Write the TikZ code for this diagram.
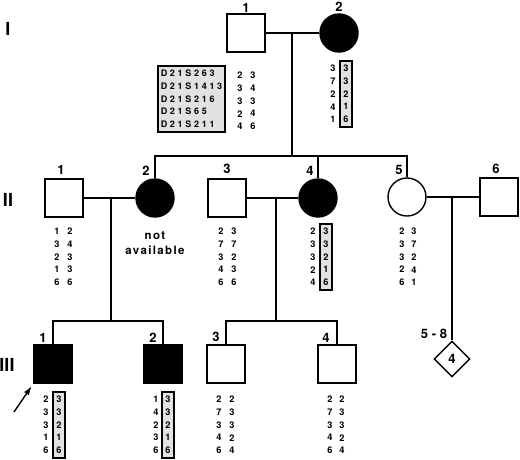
\documentclass[tikz,border=0pt]{standalone}
\usepackage{fontspec}
\setmainfont{TeX Gyre Heros}
\newfontfamily\markerfont[LetterSpace=30]{TeX Gyre Heros}
\newfontfamily\notefont[LetterSpace=12]{TeX Gyre Heros}
\usetikzlibrary{arrows.meta,positioning,shapes.geometric}
\usepackage{xcolor}
\definecolor{ink}{HTML}{000000}
\definecolor{stipple}{HTML}{E2E2E2}
\newcommand{\hapfont}{\bfseries\fontsize{9.2}{12.7}\selectfont}
\tikzset{
  >=Latex,
  every node/.style={font=\bfseries\fontsize{13}{13}\selectfont,text=ink},
  line/.style={line width=1.3pt,draw=ink},
  person/.style={draw=ink,line width=1.4pt,minimum size=38pt,inner sep=0pt,fill=white},
  male/.style={person,rectangle},
  female/.style={person,circle},
  affected/.style={fill=ink},
  unsexed/.style={person,diamond,minimum size=36pt},
  idlabel/.style={inner sep=1pt},
  genlabel/.style={font=\bfseries\fontsize{18}{18}\selectfont,inner sep=0pt},
  hapcol/.style={font=\hapfont,align=center,inner xsep=3.4pt,inner ysep=4.2pt},
  hapbox/.style={hapcol,draw=ink,line width=1.1pt,fill=stipple},
  markerbox/.style={draw=ink,line width=1.5pt,fill=stipple,align=left,inner xsep=3pt,inner ysep=4pt,font=\markerfont\bfseries\fontsize{9}{12.7}\selectfont},
  note/.style={font=\notefont\bfseries\fontsize{11.5}{15}\selectfont,align=center,inner sep=0pt},
  probarrow/.style={-{Latex[length=9pt,width=6pt]},line width=1.4pt,draw=ink,shorten >=3pt},
}

\begin{document}
\begin{tikzpicture}[x=1pt,y=-1pt]
\useasboundingbox (0,0) rectangle (520,459);

% generation I
\node[genlabel] (genI) at (8,29) {I};
\node[male] (I1) at (246,33) {};
\node[female,affected] (I2) at (339,33) {};
\node[idlabel,above=0pt of I1] (I1n) {1};
\node[idlabel,above=1pt of I2] (I2n) {2};
\coordinate (c1) at (292,33);
\coordinate (s1) at (292,156);
\draw[line] (I1) -- (I2);
\draw[line] (c1) -- (s1);

\node[markerbox] (markers) at (191.5,99) {D21S263\\D21S1413\\D21S216\\D21S65\\D21S211};
\node[hapcol] (mka) at (240,101) {2\\3\\3\\2\\4};
\node[hapcol] (mkb) at (253,101) {3\\4\\3\\4\\6};
\node[hapcol] (I2a) at (333,94) {3\\7\\2\\4\\1};
\node[hapbox] (I2b) at (346,94) {3\\3\\2\\1\\6};

% generation II
\node[genlabel] (genII) at (8,200) {II};
\node[male] (II1) at (64,198) {};
\node[female,affected] (II2) at (155,198) {};
\node[male] (II3) at (227,198) {};
\node[female,affected] (II4) at (318,198) {};
\node[female] (II5) at (407,197) {};
\node[male] (II6) at (499,197) {};
\node[idlabel,above=3pt of II1,xshift=-3pt] (II1n) {1};
\node[idlabel,above=2pt of II2,xshift=-9pt] (II2n) {2};
\node[idlabel,above=3pt of II3] (II3n) {3};
\node[idlabel,above=2pt of II4,xshift=-8pt] (II4n) {4};
\node[idlabel,above=1pt of II5,xshift=-8pt] (II5n) {5};
\node[idlabel,above=2pt of II6,xshift=-3pt] (II6n) {6};
\draw[line] (II2.north) |- (s1) -| (II5.north);
\draw[line] (II4.north) -- (II4.north |- s1);
\draw[line] (II1) -- (II2);
\draw[line] (II3) -- (II4);
\draw[line] (II5) -- (II6);
\coordinate (c2) at (111,198);
\coordinate (s2) at (111,321);
\coordinate (c3) at (276,198);
\coordinate (s3) at (276,321);
\coordinate (c4) at (452,197);
\draw[line] (c2) -- (s2);
\draw[line] (c3) -- (s3);

\node[hapcol] (II1a) at (57,257) {1\\3\\2\\1\\6};
\node[hapcol] (II1b) at (70,257) {2\\4\\3\\3\\6};
\node[note] (II2na) at (155,243) {not\\available};
\node[hapcol] (II3a) at (221,257) {2\\7\\3\\4\\6};
\node[hapcol] (II3b) at (234,257) {3\\7\\2\\3\\6};
\node[hapcol] (II4a) at (313,257) {2\\3\\3\\2\\4};
\node[hapbox] (II4b) at (326,257) {3\\3\\2\\1\\6};
\node[hapcol] (II5a) at (402,257) {2\\3\\3\\2\\6};
\node[hapcol] (II5b) at (414,257) {3\\7\\2\\4\\1};

% generation III
\node[genlabel] (genIII) at (7,365) {III};
\node[male,affected] (III1) at (53,364) {};
\node[male,affected] (III2) at (163,364) {};
\node[male] (III3) at (226,364) {};
\node[male] (III4) at (337,364) {};
\node[unsexed] (sibs) at (452,359) {4};
\node[idlabel,above=1pt of III1,xshift=-10pt] (III1n) {1};
\node[idlabel,above=1pt of III2,xshift=-10pt] (III2n) {2};
\node[idlabel,above=1pt of III3,xshift=-10pt] (III3n) {3};
\node[idlabel,above=1pt of III4,xshift=-11pt] (III4n) {4};
\node[idlabel,above=0pt of sibs,xshift=-18pt] (sibsn) {5 - 8};
\draw[line] (III1.north) |- (s2) -| (III2.north);
\draw[line] (III3.north) |- (s3) -| (III4.north);
\draw[line] (c4) -- (sibs.north);

\coordinate (proband) at (14,412);
\draw[probarrow] (proband) -- (III1.south west);

\node[hapcol] (III1a) at (46,425) {2\\3\\3\\1\\6};
\node[hapbox] (III1b) at (59,425) {3\\3\\2\\1\\6};
\node[hapcol] (III2a) at (156,425) {1\\4\\2\\3\\6};
\node[hapbox] (III2b) at (168,425) {3\\3\\2\\1\\6};
\node[hapcol] (III3a) at (219,425) {2\\7\\3\\4\\6};
\node[hapcol] (III3b) at (232,425) {2\\3\\3\\2\\4};
\node[hapcol] (III4a) at (330,425) {2\\7\\3\\4\\6};
\node[hapcol] (III4b) at (342,425) {2\\3\\3\\2\\4};

\end{tikzpicture}
\end{document}
